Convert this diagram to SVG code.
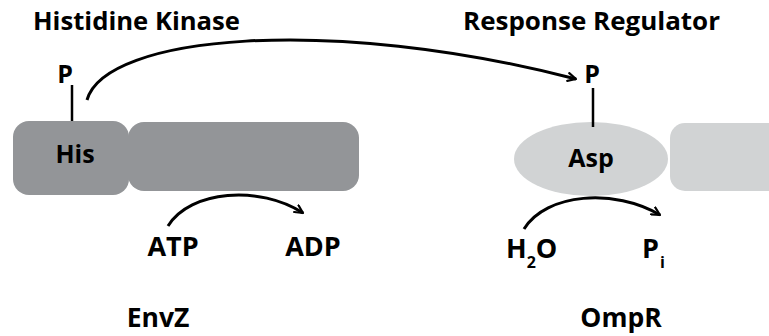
<svg xmlns="http://www.w3.org/2000/svg" width="769" height="336" viewBox="0 0 769 336">
  <defs>
    <style>
      text { font-family: "Open Sans", "Noto Sans", "DejaVu Sans", sans-serif; font-weight: 700; fill: #000; }
      .title { font-size: 25.5px; }
      .label { font-size: 27px; }
      .dom { font-size: 25px; }
      .phos { font-size: 25px; }
      .name { font-size: 26.5px; }
      .sub { font-size: 16px; }
      .hk { fill: #939598; }
      .rr { fill: #d1d3d4; }
      .link { stroke: #000; stroke-width: 2.5; fill: none; }
      .flow { stroke: #000; stroke-width: 3; fill: none; marker-end: url(#head); }
    </style>
    <marker id="head" viewBox="0 0 10 10" refX="9" refY="5" markerWidth="10" markerHeight="10" markerUnits="userSpaceOnUse" orient="auto">
      <path d="M1,1 L9,5 L1,9" fill="none" stroke="#000" stroke-width="2.2" stroke-linecap="round" stroke-linejoin="round"/>
    </marker>
  </defs>

  <!-- Histidine kinase (EnvZ) -->
  <g id="histidine-kinase">
    <text class="title" x="33" y="30" textLength="207" lengthAdjust="spacingAndGlyphs">Histidine Kinase</text>
    <rect class="hk" x="128" y="122" width="231" height="69" rx="16"/>
    <rect class="hk" x="13" y="121" width="116" height="74" rx="16"/>
    <text class="dom" x="75" y="163" text-anchor="middle">His</text>
    <line class="link" x1="72" y1="85" x2="72" y2="121"/>
    <text class="phos" x="65" y="83" text-anchor="middle">P</text>
    <text class="name" x="158" y="327" text-anchor="middle">EnvZ</text>
  </g>

  <!-- Response regulator (OmpR) -->
  <g id="response-regulator">
    <text class="title" x="463" y="30" textLength="257" lengthAdjust="spacingAndGlyphs">Response Regulator</text>
    <rect class="rr" x="670" y="123" width="130" height="68" rx="15"/>
    <ellipse class="rr" cx="591" cy="159" rx="77" ry="37"/>
    <text class="dom" x="591" y="167" text-anchor="middle">Asp</text>
    <line class="link" x1="593" y1="88" x2="593" y2="127"/>
    <text class="phos" x="592" y="83" text-anchor="middle">P</text>
    <text class="name" x="621" y="327" text-anchor="middle">OmpR</text>
  </g>

  <!-- ATP hydrolysis -->
  <g id="atp-adp">
    <text class="label" x="173" y="256" text-anchor="middle">ATP</text>
    <text class="label" x="313" y="256" text-anchor="middle">ADP</text>
  </g>

  <!-- dephosphorylation -->
  <g id="h2o-pi">
    <text class="label" x="506" y="258">H<tspan class="sub" dy="10">2</tspan><tspan dy="-10">O</tspan></text>
    <text class="label" x="642" y="258">P<tspan class="sub" dx="1" dy="10">i</tspan></text>
  </g>

  <!-- connectors -->
  <g id="connectors">
    <path class="flow" d="M87,100 C105,35 330,15 576,79"/>
    <path class="flow" d="M168,226 C190,190 260,185 303,213"/>
    <path class="flow" d="M524,229 C546,193 615,188 660,215"/>
  </g>
</svg>
